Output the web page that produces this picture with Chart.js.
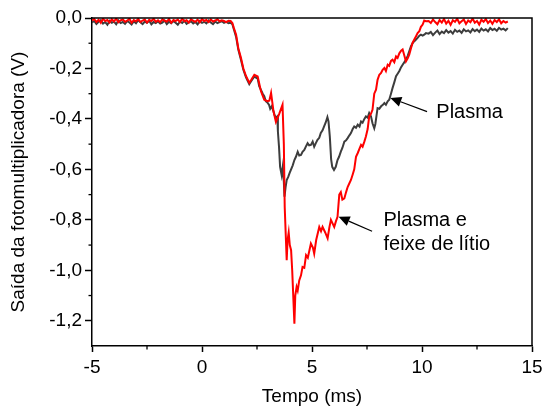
<!DOCTYPE html>
<html>
<head>
<meta charset="utf-8">
<script src="https://cdn.jsdelivr.net/npm/chart.js@4.4.1/dist/chart.umd.min.js"></script>
<style>
  html, body { margin: 0; padding: 0; background: #fff; }
  #wrap { width: 542px; height: 410px; }
</style>
</head>
<body>
<div id="wrap"><canvas id="chart" width="542" height="410"></canvas></div>
<script>
// --- Data (tempo em ms, saída em V) ---
// flat part before the pulse, shared time base
const baseTime = [
  -5.0,-4.9,-4.8,-4.7,-4.6,-4.5,-4.4,-4.3,-4.2,-4.1,
  -4.0,-3.9,-3.8,-3.7,-3.6,-3.5,-3.4,-3.3,-3.2,-3.1,
  -3.0,-2.9,-2.8,-2.7,-2.6,-2.5,-2.4,-2.3,-2.2,-2.1,
  -2.0,-1.9,-1.8,-1.7,-1.6,-1.5,-1.4,-1.3,-1.2,-1.1,
  -1.0,-0.9,-0.8,-0.7,-0.6,-0.5,-0.4,-0.3,-0.2,-0.1,
  0.0,0.1,0.2,0.3,0.4,0.5,0.6,0.7,0.8,0.9,
  1.0,1.1,1.2
];
// flat part after the pulse
const tailTime = [
  10.3,10.4,10.5,10.6,10.7,10.8,10.9,11.0,11.1,11.2,
  11.3,11.4,11.5,11.6,11.7,11.8,11.9,12.0,12.1,12.2,
  12.3,12.4,12.5,12.6,12.7,12.8,12.9,13.0,13.1,13.2,
  13.3,13.4,13.5,13.6,13.7,13.8,13.9
];

// Plasma (gray)
const plasmaBase = [
  -0.018,-0.012,-0.024,-0.015,-0.009,-0.022,-0.016,-0.027,-0.011,-0.019,
  -0.014,-0.025,-0.010,-0.020,-0.016,-0.023,-0.012,-0.018,-0.026,-0.013,
  -0.021,-0.009,-0.017,-0.024,-0.014,-0.019,-0.011,-0.025,-0.016,-0.020,
  -0.013,-0.022,-0.018,-0.010,-0.024,-0.015,-0.021,-0.012,-0.019,-0.027,
  -0.014,-0.020,-0.011,-0.023,-0.017,-0.013,-0.022,-0.016,-0.025,-0.012,
  -0.019,-0.015,-0.021,-0.010,-0.018,-0.024,-0.014,-0.020,-0.016,-0.013,
  -0.019,-0.015,-0.021
];
const plasmaTime = [
  1.3,1.38,1.45,1.55,1.65,1.77,1.88,2.0,2.15,2.24,2.38,2.53,2.6,2.68,2.76,2.83,2.9,2.97,3.05,3.1,
  3.17,3.25,3.3,3.36,3.42,3.45,3.5,3.55,3.62,3.67,3.72,3.75,3.8,3.85,3.92,3.98,4.05,4.12,4.2,4.27,
  4.35,4.42,4.5,4.57,4.65,4.72,4.8,4.87,4.95,5.03,5.1,5.18,5.25,5.33,5.4,5.48,5.55,5.62,5.7,5.75,
  5.81,5.87,5.92,6.0,6.08,6.16,6.23,6.31,6.38,6.47,6.55,6.62,6.7,6.77,6.85,6.92,7.0,7.08,7.16,7.23,
  7.3,7.38,7.45,7.53,7.6,7.68,7.75,7.83,7.88,7.98,8.06,8.14,8.21,8.29,8.36,8.44,8.51,8.59,8.66,8.74,
  8.82,8.9,8.97,9.05,9.12,9.2,9.27,9.35,9.42,9.5,9.57,9.65,9.73,9.8,9.88,9.95,10.03,10.1,10.18
];
const plasmaMid = [
  -0.019,-0.025,-0.045,-0.075,-0.125,-0.165,-0.205,-0.235,-0.262,-0.25,-0.232,-0.24,-0.27,-0.285,-0.3,-0.31,-0.33,-0.335,-0.345,-0.36,
  -0.35,-0.37,-0.385,-0.395,-0.39,-0.45,-0.51,-0.59,-0.622,-0.59,-0.65,-0.708,-0.67,-0.642,-0.63,-0.615,-0.6,-0.585,-0.563,-0.55,
  -0.53,-0.545,-0.543,-0.53,-0.523,-0.51,-0.496,-0.505,-0.503,-0.49,-0.51,-0.495,-0.483,-0.475,-0.456,-0.445,-0.43,-0.415,-0.393,-0.41,
  -0.47,-0.56,-0.59,-0.602,-0.59,-0.563,-0.55,-0.53,-0.515,-0.49,-0.485,-0.476,-0.465,-0.456,-0.44,-0.43,-0.435,-0.423,-0.43,-0.41,
  -0.415,-0.40,-0.39,-0.395,-0.377,-0.39,-0.417,-0.437,-0.42,-0.357,-0.36,-0.35,-0.345,-0.337,-0.344,-0.33,-0.324,-0.3,-0.278,-0.255,
  -0.231,-0.22,-0.21,-0.195,-0.185,-0.175,-0.165,-0.15,-0.132,-0.112,-0.1,-0.092,-0.085,-0.079,-0.07,-0.066,-0.07,-0.066,-0.06
];
const plasmaTail = [
  -0.062,-0.055,-0.068,-0.058,-0.050,-0.064,-0.054,-0.060,-0.048,-0.058,
  -0.052,-0.062,-0.047,-0.055,-0.050,-0.059,-0.045,-0.053,-0.049,-0.057,
  -0.044,-0.052,-0.046,-0.055,-0.042,-0.050,-0.045,-0.053,-0.040,-0.048,
  -0.043,-0.051,-0.039,-0.046,-0.042,-0.049,-0.040
];

// Plasma e feixe de lítio (red)
const lithiumBase = [
  -0.010,-0.004,-0.016,-0.007,-0.019,-0.003,-0.012,-0.008,-0.018,-0.005,
  -0.014,-0.002,-0.017,-0.009,-0.006,-0.015,-0.011,-0.003,-0.019,-0.008,
  -0.013,-0.004,-0.016,-0.010,-0.006,-0.018,-0.007,-0.012,-0.003,-0.015,
  -0.009,-0.017,-0.005,-0.011,-0.014,-0.004,-0.019,-0.008,-0.012,-0.006,
  -0.016,-0.003,-0.013,-0.009,-0.018,-0.005,-0.011,-0.015,-0.007,-0.017,
  -0.004,-0.012,-0.008,-0.016,-0.006,-0.014,-0.010,-0.005,-0.013,-0.009,
  -0.012,-0.016,-0.011
];
const lithiumTime = [
  1.3,1.38,1.45,1.55,1.65,1.77,1.88,2.0,2.15,2.24,2.38,2.53,2.68,2.83,2.97,3.06,3.14,3.25,3.36,3.51,
  3.66,3.72,3.76,3.85,3.89,3.94,3.99,4.05,4.1,4.2,4.24,4.3,4.35,4.42,4.5,4.57,4.65,4.73,4.81,4.95,
  5.04,5.1,5.19,5.33,5.41,5.48,5.6,5.71,5.79,5.86,5.94,6.01,6.09,6.16,6.24,6.31,6.38,6.47,6.55,6.62,
  6.7,6.77,6.85,6.92,7.0,7.08,7.15,7.23,7.3,7.38,7.45,7.53,7.6,7.68,7.75,7.83,7.91,7.98,8.06,8.14,
  8.21,8.29,8.36,8.44,8.51,8.59,8.66,8.74,8.82,8.89,8.97,9.05,9.12,9.2,9.27,9.35,9.42,9.5,9.57,9.65,
  9.73,9.8,9.88,9.95,10.03,10.1,10.18
];
const lithiumMid = [
  -0.012,-0.02,-0.04,-0.066,-0.12,-0.158,-0.2,-0.23,-0.257,-0.245,-0.225,-0.232,-0.29,-0.324,-0.33,-0.328,-0.297,-0.37,-0.412,-0.38,
  -0.344,-0.5,-0.75,-0.96,-0.88,-0.85,-0.9,-0.92,-1.0,-1.212,-1.1,-1.066,-1.08,-1.04,-1.02,-0.987,-0.99,-0.94,-0.95,-0.894,
  -0.91,-0.934,-0.88,-0.828,-0.845,-0.828,-0.85,-0.873,-0.83,-0.80,-0.815,-0.828,-0.805,-0.788,-0.70,-0.69,-0.72,-0.715,-0.69,-0.67,
  -0.655,-0.642,-0.62,-0.60,-0.55,-0.535,-0.52,-0.503,-0.51,-0.49,-0.47,-0.44,-0.39,-0.38,-0.364,-0.30,-0.284,-0.245,-0.225,-0.218,
  -0.205,-0.198,-0.21,-0.185,-0.19,-0.17,-0.165,-0.175,-0.152,-0.158,-0.14,-0.13,-0.125,-0.15,-0.172,-0.16,-0.145,-0.12,-0.099,-0.085,
  -0.072,-0.06,-0.052,-0.035,-0.026,-0.01,-0.013
];
const lithiumTail = [
  -0.012,-0.020,-0.006,-0.016,-0.025,-0.008,-0.018,-0.004,-0.022,-0.011,
  -0.027,-0.009,-0.015,-0.003,-0.021,-0.013,-0.006,-0.024,-0.010,-0.017,
  -0.002,-0.019,-0.012,-0.026,-0.007,-0.015,-0.004,-0.020,-0.010,-0.023,
  -0.008,-0.016,-0.005,-0.021,-0.012,-0.018,-0.014
];

// ticks
const xMajor = [-5, 0, 5, 10, 15];
const xMinor = [-2.5, 2.5, 7.5, 12.5];
const yMajor = [-1.2, -1.0, -0.8, -0.6, -0.4, -0.2, 0.0];
const yMinor = [-1.3, -1.1, -0.9, -0.7, -0.5, -0.3, -0.1];

// annotations: text at [x, y] (data units), arrows from tail to head
const notes = [
  { lines: ["Plasma"], at: [10.65, -0.395], tail: [10.23, -0.371], head: [8.56, -0.317] },
  { lines: ["Plasma e", "feixe de lítio"], at: [8.25, -0.824], tail: [7.73, -0.845], head: [6.21, -0.788] }
];

const FONT = "'Liberation Sans', Arial, sans-serif";

function toPoints(times, values) {
  return times.map((t, i) => ({ x: t, y: values[i] }));
}

const plasmaPts = toPoints(baseTime.concat(plasmaTime, tailTime), plasmaBase.concat(plasmaMid, plasmaTail));
const lithiumPts = toPoints(baseTime.concat(lithiumTime, tailTime), lithiumBase.concat(lithiumMid, lithiumTail));

// frame, minor ticks, arrows and labels
const extras = {
  id: "extras",
  afterDatasetsDraw(chart) {
    const { ctx, chartArea: a, scales: { x, y } } = chart;
    ctx.save();
    ctx.strokeStyle = "#000";
    ctx.lineWidth = 1.5;
    ctx.beginPath();
    ctx.moveTo(a.left, a.top);
    ctx.lineTo(a.right, a.top);
    ctx.lineTo(a.right, a.bottom);
    ctx.stroke();

    ctx.lineWidth = 1.3;
    xMinor.forEach(v => {
      const px = x.getPixelForValue(v);
      ctx.beginPath(); ctx.moveTo(px, a.bottom); ctx.lineTo(px, a.bottom + 3.5); ctx.stroke();
    });
    yMinor.forEach(v => {
      const py = y.getPixelForValue(v);
      if (py > a.bottom - 1) return;
      ctx.beginPath(); ctx.moveTo(a.left, py); ctx.lineTo(a.left - 3.5, py); ctx.stroke();
    });

    ctx.fillStyle = "#000";
    ctx.font = "20px " + FONT;
    ctx.textAlign = "left";
    ctx.textBaseline = "alphabetic";
    notes.forEach(n => {
      const tx = x.getPixelForValue(n.at[0]);
      const ty = y.getPixelForValue(n.at[1]);
      n.lines.forEach((line, i) => ctx.fillText(line, tx, ty + i * 24.5));

      const x1 = x.getPixelForValue(n.tail[0]), y1 = y.getPixelForValue(n.tail[1]);
      const x2 = x.getPixelForValue(n.head[0]), y2 = y.getPixelForValue(n.head[1]);
      const ang = Math.atan2(y2 - y1, x2 - x1);
      const hl = 11, hw = 5;
      const bx = x2 - hl * Math.cos(ang), by = y2 - hl * Math.sin(ang);
      ctx.lineWidth = 1.2;
      ctx.beginPath(); ctx.moveTo(x1, y1); ctx.lineTo(bx, by); ctx.stroke();
      ctx.beginPath();
      ctx.moveTo(x2, y2);
      ctx.lineTo(bx + hw * Math.sin(ang), by - hw * Math.cos(ang));
      ctx.lineTo(bx - hw * Math.sin(ang), by + hw * Math.cos(ang));
      ctx.closePath();
      ctx.fill();
    });
    ctx.restore();
  }
};

const ctx = document.getElementById("chart").getContext("2d");
new Chart(ctx, {
  type: "line",
  data: {
    datasets: [
      { label: "Plasma e feixe de lítio", data: lithiumPts, borderColor: "#ff0000", borderWidth: 2, order: 0 },
      { label: "Plasma", data: plasmaPts, borderColor: "#3d3d3d", borderWidth: 2, order: 1 }
    ]
  },
  options: {
    responsive: false,
    animation: false,
    parsing: false,
    elements: { point: { radius: 0 }, line: { tension: 0, fill: false } },
    layout: { padding: { top: 18, right: 10, left: 0, bottom: 0 } },
    plugins: { legend: { display: false }, tooltip: { enabled: false }, title: { display: false } },
    scales: {
      x: {
        type: "linear", min: -5, max: 15,
        afterBuildTicks: s => { s.ticks = xMajor.map(v => ({ value: v })); },
        afterFit: s => { s.height = 64; s.paddingRight = 0; s.paddingLeft = 0; },
        ticks: { color: "#000", font: { family: FONT, size: 19 }, padding: 4, maxRotation: 0, callback: v => String(v) },
        grid: { drawOnChartArea: false, tickLength: 6, tickColor: "#000", tickWidth: 1.5 },
        border: { display: true, color: "#000", width: 1.5 },
        title: { display: true, text: "Tempo (ms)", color: "#000", font: { family: FONT, size: 19 }, padding: { top: 0, bottom: 2 } }
      },
      y: {
        type: "linear", min: -1.3, max: 0,
        afterBuildTicks: s => { s.ticks = yMajor.map(v => ({ value: v })); },
        afterFit: s => { s.width = 92; },
        ticks: { color: "#000", font: { family: FONT, size: 19 }, padding: 3, callback: v => v.toFixed(1).replace(".", ",") },
        grid: { drawOnChartArea: false, tickLength: 7, tickColor: "#000", tickWidth: 1.5 },
        border: { display: true, color: "#000", width: 1.5 },
        title: { display: true, text: "Saída da fotomultiplicadora (V)", color: "#000", font: { family: FONT, size: 19 }, padding: { top: 7, bottom: 0 } }
      }
    }
  },
  plugins: [extras]
});
</script>
</body>
</html>
